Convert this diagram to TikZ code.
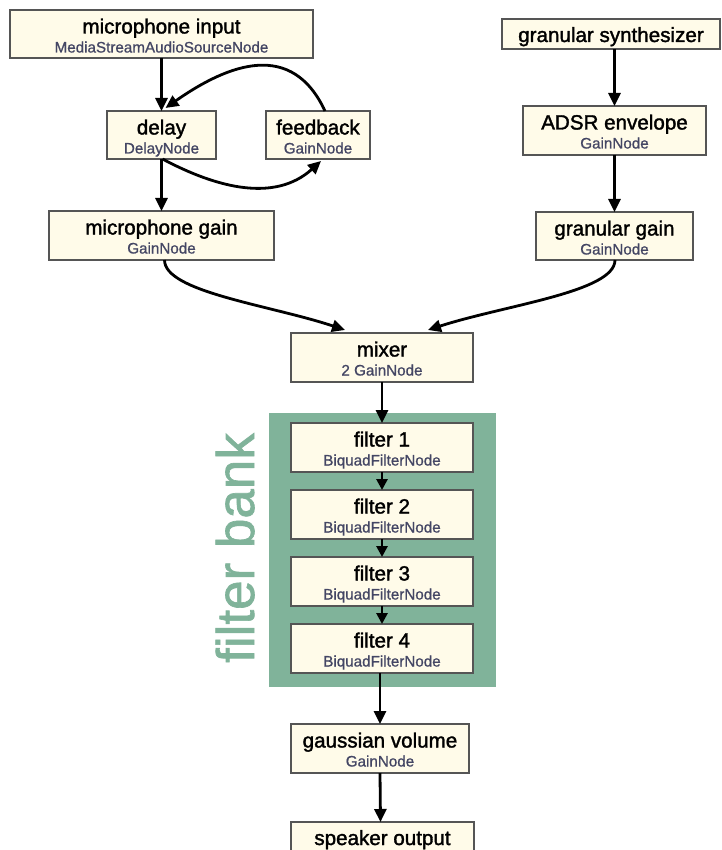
\documentclass[tikz,border=0pt]{standalone}
\usepackage{fontspec}
\setmainfont{Liberation Sans}
\newfontfamily\ttlfont{Liberation Sans}[FakeBold=1.6]
\newfontfamily\subfont{Liberation Sans}[FakeBold=0.9]
\newfontfamily\bankfont{Liberation Sans}[FakeBold=1.2]
\usetikzlibrary{arrows.meta}
\definecolor{boxfill}{RGB}{255,251,233}
\definecolor{boxline}{RGB}{85,85,85}
\definecolor{subcol}{RGB}{68,70,100}
\definecolor{bankgreen}{RGB}{128,179,154}
\tikzset{
  box/.style={draw=boxline, fill=boxfill, line width=1.1pt, inner sep=0pt, outer sep=0pt, anchor=north west},
  ttl/.style={anchor=base, inner sep=0pt, font=\ttlfont\fontsize{20.6}{24}\selectfont},
  sub/.style={anchor=base, inner sep=0pt, text=subcol, font=\subfont\fontsize{15.2}{17}\selectfont},
  flow/.style={line width=2.8pt, -{Triangle[length=13pt,width=12pt]}},
  sflow/.style={line width=2.8pt, -{Triangle[length=11pt,width=11pt]}}
}
% name, x1, y1, x2, y2, title, subtitle
\newcommand\blk[7]{%
  \node[box, minimum width={#4-#2}, minimum height={#5-#3}] (#1) at (#2,-#3) {};
  \node[ttl] (#1t) at ({(#2+#4)/2},{-#3-23.5}) {#6};
  \node[sub] (#1s) at ({(#2+#4)/2},{-#3-42.5}) {#7};
}
\newcommand\blkone[6]{%
  \node[box, minimum width={#4-#2}, minimum height={#5-#3}] (#1) at (#2,-#3) {};
  \node[ttl] (#1t) at ({(#2+#4)/2},{-#3-23}) {#6};
}
\begin{document}
\begin{tikzpicture}[x=1pt,y=1pt]
\useasboundingbox (0,0) rectangle (721,-850);
\clip (0,0) rectangle (721,-850);
\fill[white] (0,0) rectangle (721,-850);

% filter bank background
\fill[bankgreen] (269,-413) rectangle (496,-687);
\node[text=bankgreen, rotate=90, anchor=base, inner sep=0pt, font=\bankfont\fontsize{53}{60}\selectfont] (banklabel) at (254,-548) {filter bank};

\blk{mic}{10}{10}{313}{58}{microphone input}{MediaStreamAudioSourceNode}
\blk{delay}{107}{111}{216}{159}{delay}{DelayNode}
\blk{fb}{266}{111}{370}{159}{feedback}{GainNode}
\blk{micgain}{49}{211}{274}{260}{microphone gain}{GainNode}
\blkone{gsyn}{502}{19}{720}{49}{granular synthesizer}
\blk{adsr}{523}{106}{706}{155}{ADSR envelope}{GainNode}
\blk{ggain}{536}{212}{693}{260}{granular gain}{GainNode}
\blk{mixer}{291}{333}{473}{382}{mixer}{2 GainNode}
\blk{f1}{291}{423}{473}{472}{filter 1}{BiquadFilterNode}
\blk{f2}{291}{490}{473}{539}{filter 2}{BiquadFilterNode}
\blk{f3}{291}{557}{473}{606}{filter 3}{BiquadFilterNode}
\blk{f4}{291}{624}{473}{673}{filter 4}{BiquadFilterNode}
\blk{gauss}{291}{724}{469}{773}{gaussian volume}{GainNode}
\blkone{spk}{291}{822}{474}{871}{speaker output}

% connectors
\draw[flow] (mic.south) -- (delay.north);
\draw[flow] (delay.south) -- (micgain.north);
\draw[flow] ([xshift=7pt]fb.north) to[out=115,in=35,looseness=1.25] ([xshift=4pt,yshift=3pt]delay.north);
\draw[flow] ([xshift=1pt]delay.south) to[out=-28,in=-138] ([xshift=3pt,yshift=-2pt]fb.south);
\draw[flow] (gsyn.south -| adsr.north) -- (adsr.north);
\draw[flow] (adsr.south) -- (ggain.north);
\draw[flow] ([xshift=3pt]micgain.south) .. controls +(0,-32) and +(-75,25) .. ([xshift=-37pt,yshift=3pt]mixer.north);
\draw[flow] ([xshift=0.5pt]ggain.south) .. controls +(0,-32) and +(77,25) .. ([xshift=46pt,yshift=3pt]mixer.north);
\draw[flow] (mixer.south) -- (f1.north);
\draw[sflow] (f1.south) -- (f2.north);
\draw[sflow] (f2.south) -- (f3.north);
\draw[sflow] (f3.south) -- (f4.north);
\draw[flow] ([xshift=-2pt]f4.south) -- ([xshift=0pt]gauss.north);
\draw[flow] (gauss.south) -- ([xshift=-2pt]spk.north);
\end{tikzpicture}
\end{document}
